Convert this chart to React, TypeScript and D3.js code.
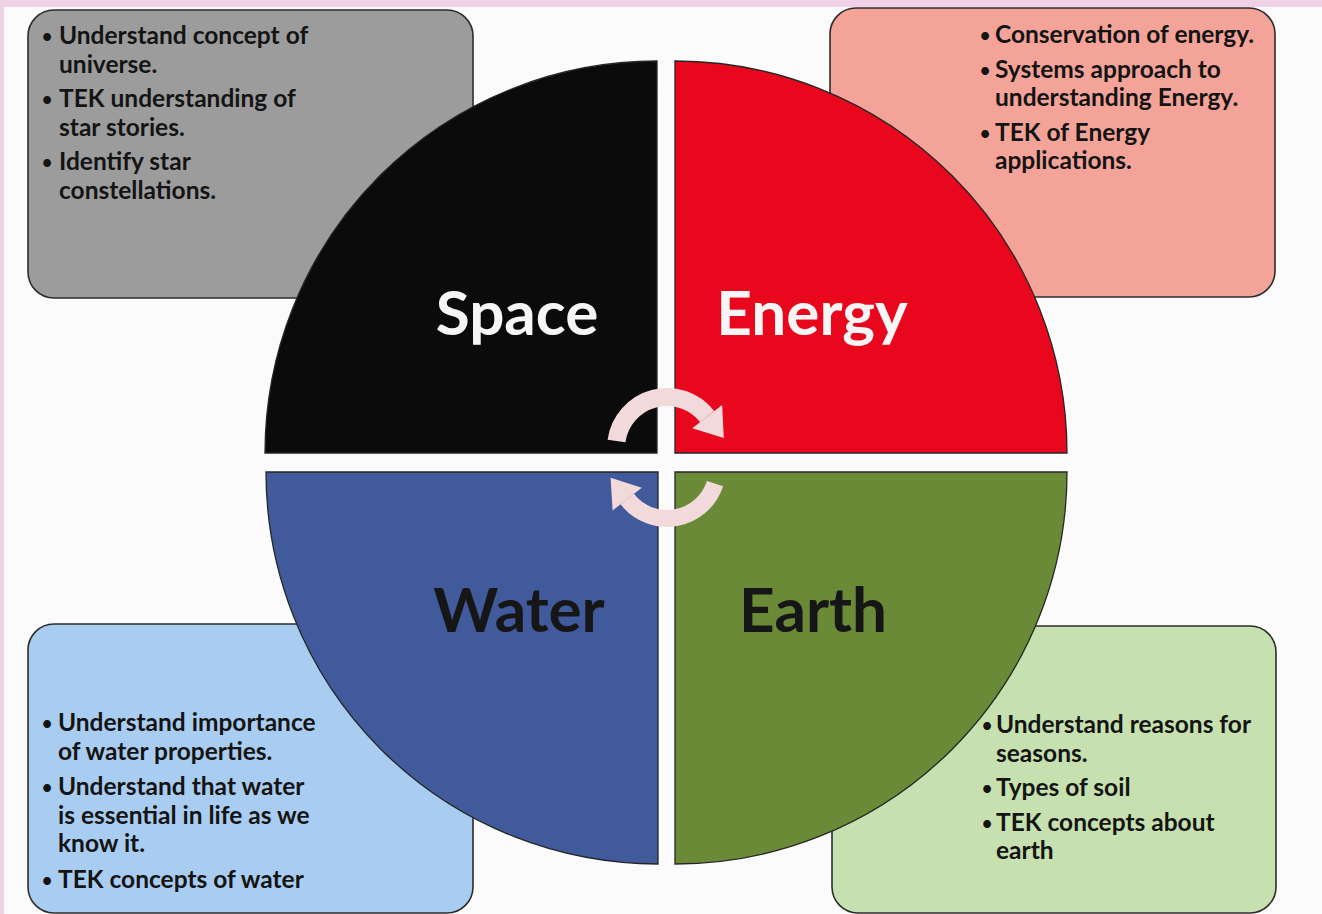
import { useEffect } from "react"
import * as d3 from "d3"

// Four themes of the wheel, clockwise from top-left
const themes = ["Space", "Energy", "Earth", "Water"]
const themeFills = ["#0b0b0b", "#e8071d", "#6a8a38", "#405a9c"]
const labelFills = ["#f6f6f6", "#f6f6f6", "#161616", "#161616"]

// Bullet text in each corner box
const spaceBullets = [
  ["Understand concept of", "universe."],
  ["TEK understanding of", "star stories."],
  ["Identify star", "constellations."],
]
const energyBullets = [
  ["Conservation of energy."],
  ["Systems approach to", "understanding Energy."],
  ["TEK of Energy", "applications."],
]
const earthBullets = [
  ["Understand reasons for", "seasons."],
  ["Types of soil"],
  ["TEK concepts about", "earth"],
]
const waterBullets = [
  ["Understand importance", "of water properties."],
  ["Understand that water", "is essential in life as we", "know it."],
  ["TEK concepts of water"],
]
const boxFills = ["#9c9c9c", "#f4a398", "#c6e0af", "#a9cdf1"]

const W = 1322
const H = 914
const R = 392
const FONT = "Lato, 'Open Sans', sans-serif"

export default function App() {
  useEffect(() => {
    document.body.style.margin = "0"
  }, [])

  // quadrant corner centres (the gaps between them form the white cross)
  const centers: [number, number][] = [
    [657, 453],
    [675, 453],
    [675, 472],
    [658, 472],
  ]
  const quarter = d3.arc<any>()
  const quadPaths = themes.map((_, i) =>
    quarter({
      innerRadius: 0,
      outerRadius: R,
      startAngle: -Math.PI / 2 + (i * Math.PI) / 2,
      endAngle: (i * Math.PI) / 2,
    }) as string,
  )
  const labelOffsets: [number, number][] = [
    [-140, -118],
    [137, -118],
    [138, 160],
    [-139, 160],
  ]

  const boxes = [
    { x: 28, y: 10, w: 445, h: 288, bx: 47, tx: 59, y0: 44, step: 29, gap: 5, items: spaceBullets },
    { x: 830, y: 8, w: 445, h: 289, bx: 985, tx: 995, y0: 43, step: 28.5, gap: 6, items: energyBullets },
    { x: 832, y: 626, w: 444, h: 287, bx: 987, tx: 996, y0: 733, step: 28.5, gap: 6, items: earthBullets },
    { x: 28, y: 624, w: 445, h: 289, bx: 47, tx: 58, y0: 731, step: 28.5, gap: 7, items: waterBullets },
  ]

  // rotation arrows in the middle
  const band = d3.arc<any>()
  const arrowLine = d3.line()
  const deg = Math.PI / 180
  const arrows = [
    { cx: 667, cy: 448, r0: 42, r1: 60, a0: -82, a1: 52 },
    { cx: 667, cy: 468, r0: 42, r1: 59, a0: 108, a1: 232 },
  ].map((a) => {
    const body = band({ innerRadius: a.r0, outerRadius: a.r1, startAngle: a.a0 * deg, endAngle: a.a1 * deg }) as string
    const t = a.a1 * deg
    const rm = (a.r0 + a.r1) / 2
    const p = (r: number): [number, number] => [r * Math.sin(t), -r * Math.cos(t)]
    const mid = p(rm)
    const tip: [number, number] = [mid[0] + 27 * Math.cos(t), mid[1] + 27 * Math.sin(t)]
    const head = arrowLine([p(a.r0 - 10), p(a.r1 + 10), tip]) + "Z"
    return { ...a, body, head }
  })

  return (
    <svg width={W} height={H} style={{ display: "block", position: "absolute", left: 0, top: 0 }} fontFamily={FONT}>
      <rect width={W} height={H} fill="#fbfbfb" />
      <rect width={W} height={7} fill="#efd2e5" />
      <rect width={4} height={H} fill="#efd2e5" />

      {boxes.map((b, i) => (
        <g key={"box" + i}>
          <rect x={b.x} y={b.y} width={b.w} height={b.h} rx={26} fill={boxFills[i]} stroke="#2c2c2c" strokeWidth={1.6} />
        </g>
      ))}

      {themes.map((t, i) => (
        <g key={t} transform={`translate(${centers[i][0]},${centers[i][1]})`}>
          <path d={quadPaths[i]} fill={themeFills[i]} stroke="#262626" strokeWidth={1.3} />
          <text
            x={labelOffsets[i][0]}
            y={labelOffsets[i][1]}
            textAnchor="middle"
            fontSize={62}
            fontWeight={700}
            fill={labelFills[i]}
          >
            {t}
          </text>
        </g>
      ))}

      {arrows.map((a, i) => (
        <g key={"arrow" + i} transform={`translate(${a.cx},${a.cy})`} fill="#f2dadb">
          <path d={a.body} />
          <path d={a.head} />
        </g>
      ))}

      {boxes.map((b, i) => {
        let y = b.y0
        const rows: JSX.Element[] = []
        b.items.forEach((lines, j) => {
          if (j > 0) y += b.gap
          lines.forEach((line, k) => {
            if (k === 0)
              rows.push(
                <text key={`b${j}`} x={b.bx} y={y} textAnchor="middle" fontSize={21} fill="#141414">
                  •
                </text>,
              )
            rows.push(
              <text key={`t${j}-${k}`} x={b.tx} y={y} fontSize={24.5} fontWeight={700} fill="#141414">
                {line}
              </text>,
            )
            y += b.step
          })
        })
        return <g key={"txt" + i}>{rows}</g>
      })}
    </svg>
  )
}
